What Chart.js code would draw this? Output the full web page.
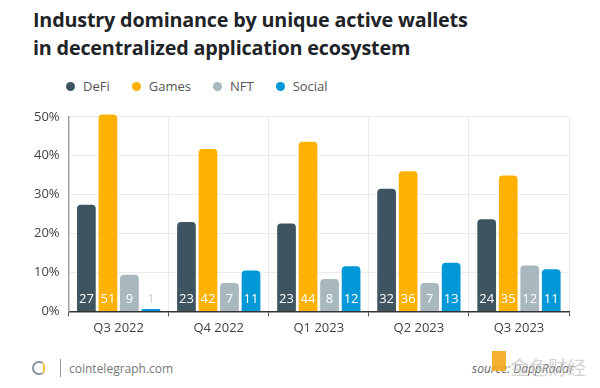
<!DOCTYPE html>
<html>
<head>
<meta charset="utf-8">
<script src="https://cdn.jsdelivr.net/npm/chart.js@4"></script>
<style>
  body { margin: 0; background: #fff; font-family: "Open Sans", sans-serif; }
  #wrap { position: relative; width: 600px; height: 388px; overflow: hidden; }
  #title { position: absolute; left: 33px; top: 6px; font-size: 19.8px; font-weight: 700; line-height: 28px; color: #1f2428; letter-spacing: -0.2px; }
  #legend { position: absolute; left: 66px; top: 77px; font-size: 13px; color: #555; display: flex; }
  #legend span { display: inline-flex; align-items: center; margin-right: 22px; }
  #legend i { width: 9px; height: 9px; border-radius: 50%; display: inline-block; margin-right: 8px; }
  #chartBox { position: absolute; left: 0; top: 100px; width: 600px; height: 240px; }
  #footer { position: absolute; left: 0; top: 355px; width: 600px; height: 30px; font-size: 12px; color: #777; }
  #logo { position: absolute; left: 32px; top: 6px; width: 13px; height: 14px; border: 2px solid #8b97a0; border-right-color: #f0c040; border-radius: 50% 40% 40% 50%; box-sizing: border-box; }
  #divider { position: absolute; left: 60px; top: 4px; width: 1px; height: 18px; background: #999; }
  #site { position: absolute; left: 69px; top: 5px; }
  #source { position: absolute; left: 472px; top: 5px; color: #666; font-style: italic; }
  #mark { position: absolute; left: 492px; top: -4px; width: 14px; height: 20px; background: #f3a81c; opacity: 0.9; }
  #wm { position: absolute; left: 510px; top: -2px; font-size: 19px; color: rgba(200,200,200,0.8); font-family: "Noto Sans CJK SC", sans-serif; }
</style>
</head>
<body>
<div id="wrap">
  <div id="title">Industry dominance by unique active wallets<br>in decentralized application ecosystem</div>
  <div id="legend"></div>
  <div id="chartBox"><canvas id="chart"></canvas></div>
  <div id="footer">
    <div id="logo"></div>
    <div id="divider"></div>
    <div id="site">cointelegraph.com</div>
    <div id="source">source: DappRadar</div>
    <div id="mark"></div>
    <div id="wm">金色财经</div>
  </div>
</div>
<script>
const quarters = ['Q3 2022', 'Q4 2022', 'Q1 2023', 'Q2 2023', 'Q3 2023'];
const defi = [27.4, 23.0, 22.6, 31.5, 23.7];
const games = [50.6, 41.7, 43.6, 36.0, 34.9];
const nft = [9.4, 7.3, 8.3, 7.3, 11.8];
const social = [0.6, 10.5, 11.6, 12.5, 10.8];
const yTicks = [0, 10, 20, 30, 40, 50];

const seriesNames = ['DeFi', 'Games', 'NFT', 'Social'];
const seriesColors = ['#3e5561', '#ffb100', '#a9b7be', '#0098d6'];
const seriesData = [defi, games, nft, social];

// html legend
const legendEl = document.getElementById('legend');
seriesNames.forEach(function (name, i) {
  const s = document.createElement('span');
  s.innerHTML = '<i style="background:' + seriesColors[i] + '"></i>' + name;
  legendEl.appendChild(s);
});

// numbers at the bottom of each bar
const barLabels = {
  id: 'barLabels',
  afterDatasetsDraw(chart) {
    const ctx = chart.ctx;
    const base = chart.scales.y.getPixelForValue(0);
    ctx.save();
    ctx.font = '13px "Open Sans"';
    ctx.textAlign = 'center';
    ctx.textBaseline = 'middle';
    chart.data.datasets.forEach(function (ds, di) {
      chart.getDatasetMeta(di).data.forEach(function (bar, i) {
        const txt = String(Math.round(ds.data[i]));
        const tall = base - bar.y > 20;
        ctx.fillStyle = tall ? '#ffffff' : '#c6cfd3';
        ctx.fillText(txt, bar.x, base - 12);
      });
    });
    ctx.restore();
  }
};

new Chart(document.getElementById('chart'), {
  type: 'bar',
  data: {
    labels: quarters,
    datasets: seriesData.map(function (d, i) {
      return {
        label: seriesNames[i],
        data: d,
        backgroundColor: seriesColors[i],
        borderRadius: { topLeft: 4, topRight: 4 },
        borderSkipped: 'bottom',
        categoryPercentage: 0.86,
        barPercentage: 0.87,
        clip: false
      };
    })
  },
  options: {
    responsive: true,
    maintainAspectRatio: false,
    animation: false,
    layout: { padding: { left: 25, right: 31, top: 8, bottom: 0 } },
    plugins: {
      legend: { display: false },
      tooltip: { enabled: false }
    },
    scales: {
      x: {
        grid: { color: '#ececec', tickColor: '#555', tickLength: 5, offset: true },
        border: { color: '#333', width: 1.5 },
        ticks: { color: '#444', font: { size: 13, family: 'Open Sans' }, padding: 4 }
      },
      y: {
        min: 0,
        max: 50,
        afterBuildTicks: function (axis) {
          axis.ticks = yTicks.map(function (v) { return { value: v }; });
        },
        grid: { color: '#ececec', drawTicks: false },
        border: { color: '#a0a0a0', width: 1.5 },
        ticks: {
          color: '#444',
          font: { size: 13, family: 'Open Sans' },
          padding: 9,
          callback: function (v) { return v + '%'; }
        }
      }
    }
  },
  plugins: [barLabels]
});
</script>
</body>
</html>
